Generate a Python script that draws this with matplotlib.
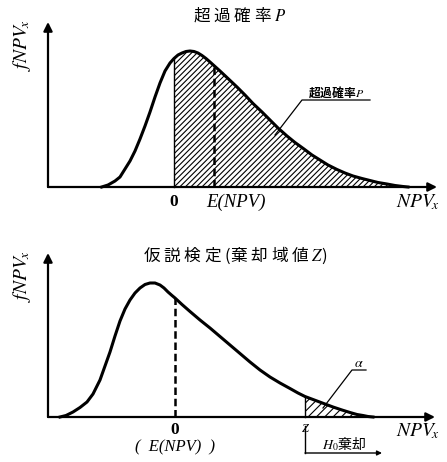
import numpy as np
import matplotlib
matplotlib.use("Agg")
import matplotlib.pyplot as plt

plt.rcParams['font.family'] = ['Noto Sans CJK JP', 'DejaVu Sans']
plt.rcParams['mathtext.fontset'] = 'stix'
plt.rcParams['hatch.linewidth'] = 0.8

# ---- data (arbitrary units) ----
# top panel: exceedance probability
top_x = np.array([-7.23, -6.6, -5.9, -5.4, -4.9, -4.4, -3.9, -3.4, -2.9, -2.4, -1.9, -1.4,
                  -0.9, -0.4, 0.0, 0.4, 0.8, 1.2, 1.6, 2.0, 2.4, 2.8, 3.2, 3.6, 4.1,
                  4.6, 5.4, 6.3, 7.1, 7.9, 8.8, 9.6, 10.4, 11.3, 12.1, 13.0, 13.8,
                  14.6, 15.4, 16.3, 17.1, 17.9, 18.8, 19.6, 20.4, 21.3, 22.1, 22.9, 23.4])
top_y = np.array([0.0, 0.2, 0.6, 1.0, 1.8, 2.6, 3.6, 4.8, 6.1, 7.5, 9.0, 10.4,
                  11.6, 12.4, 12.85, 13.2, 13.4, 13.55, 13.6, 13.55, 13.4, 13.15, 12.85, 12.5, 12.05,
                  11.6, 10.85, 10.0, 9.2, 8.35, 7.5, 6.7, 5.9, 5.1, 4.45, 3.8, 3.2,
                  2.7, 2.2, 1.75, 1.4, 1.1, 0.85, 0.65, 0.45, 0.3, 0.15, 0.05, 0.0])
top_zero = 0.0
top_ENPV = 4.0

# bottom panel: hypothesis test
bot_x = np.array([-11.5, -10.9, -10.2, -9.5, -8.8, -8.2, -7.5, -7.0, -6.5, -6.0, -5.5, -5.0,
                  -4.5, -4.0, -3.5, -3.0, -2.5, -2.0, -1.5, -1.1, -0.7, -0.3, 0.0, 0.7,
                  1.5, 2.5, 3.5, 4.5, 5.5, 6.5, 7.5, 8.5, 9.5, 10.5, 11.5, 12.3, 13.0,
                  14.2, 15.0, 15.8, 16.7, 17.5, 18.2, 18.8, 19.3, 19.8])
bot_y = np.array([0.0, 0.15, 0.5, 0.95, 1.5, 2.3, 3.7, 5.1, 6.5, 8.1, 9.6, 10.8,
                  11.7, 12.4, 12.9, 13.25, 13.4, 13.4, 13.2, 12.9, 12.5, 12.15, 11.9, 11.25,
                  10.55, 9.7, 8.9, 8.05, 7.2, 6.35, 5.5, 4.7, 4.0, 3.4, 2.85, 2.4, 2.05,
                  1.6, 1.3, 1.0, 0.7, 0.45, 0.25, 0.15, 0.05, 0.0])
bot_ENPV = 0.0
bot_Z = 13.0

fig = plt.figure(figsize=(4.47, 4.62), dpi=100)

# axes mapped so that 1 data unit = 10 px
ax1 = fig.add_axes([0, 232 / 462, 1, 230 / 462])
ax1.set_xlim(-17.4, 27.3)
ax1.set_ylim(-4.3, 18.7)
ax2 = fig.add_axes([0, 0, 1, 232 / 462])
ax2.set_xlim(-17.5, 27.2)
ax2.set_ylim(-4.5, 18.7)
for ax in (ax1, ax2):
    ax.axis('off')

arrow_kw = dict(arrowstyle='-|>', lw=1.6, color='k', mutation_scale=13,
                shrinkA=0, shrinkB=0)
serif_it = dict(family='Liberation Serif', style='italic')

# ---------------- top panel ----------------
ax = ax1
ax.annotate('', xy=(26.3, 0), xytext=(-12.6, 0), arrowprops=arrow_kw)
ax.annotate('', xy=(-12.6, 16.5), xytext=(-12.6, 0), arrowprops=arrow_kw)
mask = top_x >= top_zero
ax.fill_between(top_x[mask], top_y[mask], 0, facecolor='none', edgecolor='k',
                hatch='//////', lw=0)
ax.plot(top_x, top_y, color='k', lw=2.2, solid_joinstyle='round')
ax.plot([top_zero, top_zero], [0, np.interp(top_zero, top_x, top_y)], color='k', lw=1.0)
ax.plot([top_ENPV, top_ENPV], [0, np.interp(top_ENPV, top_x, top_y)], color='k', lw=1.8,
        ls=(0, (3, 1.5)))

ax.text(6.6, 17.2, '超 過 確 率 $P$', fontsize=12, ha='center', va='center')
ax.text(-15.2, 14.2, r'$fNPV_{\!x}$', fontsize=14, rotation=90, ha='center', va='center')
ax.text(0, -1.5, '0', fontsize=12.5, family='Liberation Serif', weight='bold',
        ha='center', va='center')
ax.text(6.2, -1.5, 'E(NPV)', fontsize=13.5, ha='center', va='center', **serif_it)
ax.text(24.4, -1.5, r'$NPV_{\!x}$', fontsize=14, ha='center', va='center')
# leader label
ax.plot([10.1, 12.8, 19.6], [5.2, 8.7, 8.7], color='k', lw=0.9)
ax.text(16.2, 9.5, '超過確率$P$', fontsize=8.5, ha='center', va='center', weight='bold')

# ---------------- bottom panel ----------------
ax = ax2
ax.annotate('', xy=(26.0, 0), xytext=(-12.7, 0), arrowprops=arrow_kw)
ax.annotate('', xy=(-12.7, 16.4), xytext=(-12.7, 0), arrowprops=arrow_kw)
mask = bot_x >= bot_Z
ax.fill_between(bot_x[mask], bot_y[mask], 0, facecolor='none', edgecolor='k',
                hatch='////', lw=0)
ax.plot(bot_x, bot_y, color='k', lw=2.2, solid_joinstyle='round')
ax.plot([bot_Z, bot_Z], [0, np.interp(bot_Z, bot_x, bot_y)], color='k', lw=1.0)
ax.plot([bot_ENPV, bot_ENPV], [0, np.interp(bot_ENPV, bot_x, bot_y)], color='k', lw=1.8,
        ls=(0, (3, 1.5)))

ax.text(6.0, 16.2, '仮 説 検 定 (棄 却 域 値 $Z$)', fontsize=12, ha='center', va='center')
ax.text(-15.3, 14.1, r'$fNPV_{\!x}$', fontsize=14, rotation=90, ha='center', va='center')
ax.text(0, -1.3, '0', fontsize=12.5, family='Liberation Serif', weight='bold',
        ha='center', va='center')
ax.text(0, -3.05, '(  E(NPV)  )', fontsize=12, ha='center', va='center', **serif_it)
ax.text(bot_Z, -1.2, 'Z', fontsize=9, ha='center', va='center', **serif_it)
ax.text(24.3, -1.4, r'$NPV_{\!x}$', fontsize=14, ha='center', va='center')
# H0 rejection bracket
ax.plot([bot_Z, bot_Z], [-0.9, -3.6], color='k', lw=1.0)
ax.annotate('', xy=(20.7, -3.6), xytext=(bot_Z, -3.6),
            arrowprops=dict(arrowstyle='-|>', lw=1.0, color='k', mutation_scale=7,
                            shrinkA=0, shrinkB=0))
ax.text(16.9, -2.7, '$H_0$棄却', fontsize=10, ha='center', va='center')
# alpha leader
ax.plot([14.8, 17.7, 19.1], [0.9, 4.7, 4.7], color='k', lw=0.9)
ax.text(18.4, 5.4, r'$\alpha$', fontsize=10, ha='center', va='center')

fig.savefig('out.png', dpi=100, facecolor='white')
